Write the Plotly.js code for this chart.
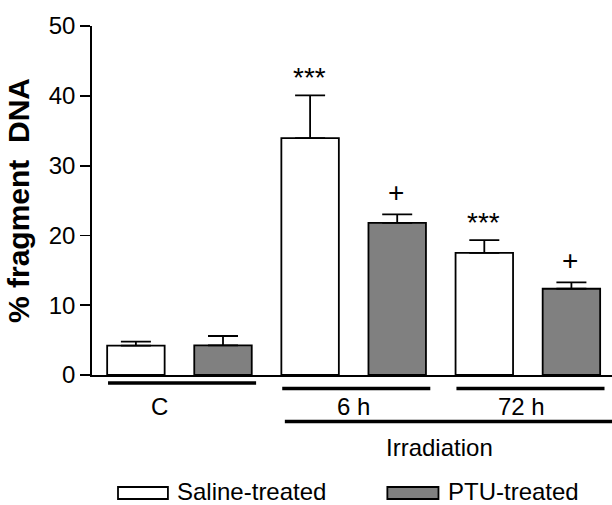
<!DOCTYPE html>
<html>
<head>
<meta charset="utf-8">
<script src="https://cdn.plot.ly/plotly-3.0.1.min.js"></script>
<style>html,body{margin:0;padding:0;background:#fff;}#chart{width:612px;height:505px;}</style>
</head>
<body>
<div id="chart"></div>
<script>
// ---- data ----
const groups = ["C", "6 h", "72 h"];
const seriesNames = ["Saline-treated", "PTU-treated"];
const saline = [4.2, 33.95, 17.5];
const salineErr = [0.57, 6.1, 1.82];
const ptu = [4.25, 21.8, 12.36];
const ptuErr = [1.34, 1.2, 0.92];
const salineSig = ["", "***", "***"];
const ptuSig = ["", "+", "+"];
const yTitle = "% fragment&nbsp; DNA";
const groupLabel = "Irradiation";
const irradiatedGroups = ["6 h", "72 h"];

const FONT = "Liberation Sans, Arial, sans-serif";
const BLACK = "#000000";

function barTrace(name, vals, errs, fill) {
  return {
    type: "bar", name: name, x: groups, y: vals,
    marker: {color: fill, line: {color: BLACK, width: 1.8}},
    error_y: {type: "data", symmetric: false, array: errs, arrayminus: errs.map(() => 0),
              color: BLACK, thickness: 1.8, width: 15},
    showlegend: false, hoverinfo: "skip"
  };
}
const traces = [
  barTrace(seriesNames[0], saline, salineErr, "#ffffff"),
  barTrace(seriesNames[1], ptu, ptuErr, "#808080")
];

const annotations = [];
const shapes = [];
// significance marks
groups.forEach((g, i) => {
  if (salineSig[i]) annotations.push({x: i - 0.25, y: saline[i] + salineErr[i], xref: "x", yref: "y",
    text: salineSig[i], showarrow: false, yanchor: "bottom", yshift: 0, xshift: -1,
    font: {family: FONT, size: 28, color: BLACK}});
  if (ptuSig[i]) annotations.push({x: i + 0.25, y: ptu[i] + ptuErr[i], xref: "x", yref: "y",
    text: ptuSig[i], showarrow: false, yanchor: "bottom", yshift: 4, xshift: -1,
    font: {family: FONT, size: 28, color: BLACK}});
});
// group underlines and labels
const labelShift = [-20, 0, -6];
groups.forEach((g, i) => {
  const yLine = i === 0 ? -0.023 : -0.039;
  shapes.push({type: "line", xref: "x", yref: "paper", x0: i - 0.41, x1: i + 0.44, y0: yLine, y1: yLine,
    line: {color: BLACK, width: 3.5}});
  annotations.push({x: i, y: -0.091, xref: "x", yref: "paper", text: g, showarrow: false,
    xshift: labelShift[i], yanchor: "middle", font: {family: FONT, size: 24, color: BLACK}});
});
// irradiation bracket
const firstIrr = groups.indexOf(irradiatedGroups[0]);
shapes.push({type: "line", xref: "x", yref: "paper", x0: firstIrr - 0.395, x1: 2.49, y0: -0.133, y1: -0.133,
  line: {color: BLACK, width: 3.5}});
annotations.push({x: 1.5, y: -0.207, xref: "x", yref: "paper", text: groupLabel, showarrow: false,
  xshift: -1, yanchor: "middle", font: {family: FONT, size: 24, color: BLACK}});
// legend (drawn manually for wide swatches)
const legendItems = [
  {name: seriesNames[0], fill: "#ffffff", x0: 0.05, x1: 0.146, tx: 0.1615},
  {name: seriesNames[1], fill: "#808080", x0: 0.568, x1: 0.6663, tx: 0.6826}
];
legendItems.forEach(it => {
  shapes.push({type: "rect", xref: "paper", yref: "paper", x0: it.x0, x1: it.x1, y0: -0.3553, y1: -0.3209,
    fillcolor: it.fill, line: {color: BLACK, width: 1.8}});
  annotations.push({x: it.tx, y: -0.334, xref: "paper", yref: "paper", text: it.name, showarrow: false,
    xanchor: "left", yanchor: "middle", borderpad: 0, font: {family: FONT, size: 24, color: BLACK}});
});

const layout = {
  width: 612, height: 505,
  margin: {l: 92, r: 0, t: 26, b: 130},
  paper_bgcolor: "#ffffff", plot_bgcolor: "#ffffff",
  barmode: "group", bargap: 0, bargroupgap: 0.34,
  font: {family: FONT, color: BLACK},
  xaxis: {type: "category", range: [-0.502, 2.483], showticklabels: false, ticks: "",
          showline: true, linecolor: BLACK, linewidth: 1.8, showgrid: false, zeroline: false, fixedrange: true},
  yaxis: {range: [0, 50], tickvals: [0, 10, 20, 30, 40, 50], ticks: "outside", ticklen: 10, tickwidth: 1.8,
          tickcolor: BLACK, showline: true, linecolor: BLACK, linewidth: 1.8, showgrid: false, zeroline: false,
          tickfont: {family: FONT, size: 24, color: BLACK},
          title: {text: yTitle, font: {family: FONT, size: 30, color: BLACK, weight: "bold"}, standoff: 10},
          fixedrange: true},
  shapes: shapes,
  annotations: annotations
};

Plotly.newPlot("chart", traces, layout, {displayModeBar: false, staticPlot: true});
</script>
</body>
</html>
